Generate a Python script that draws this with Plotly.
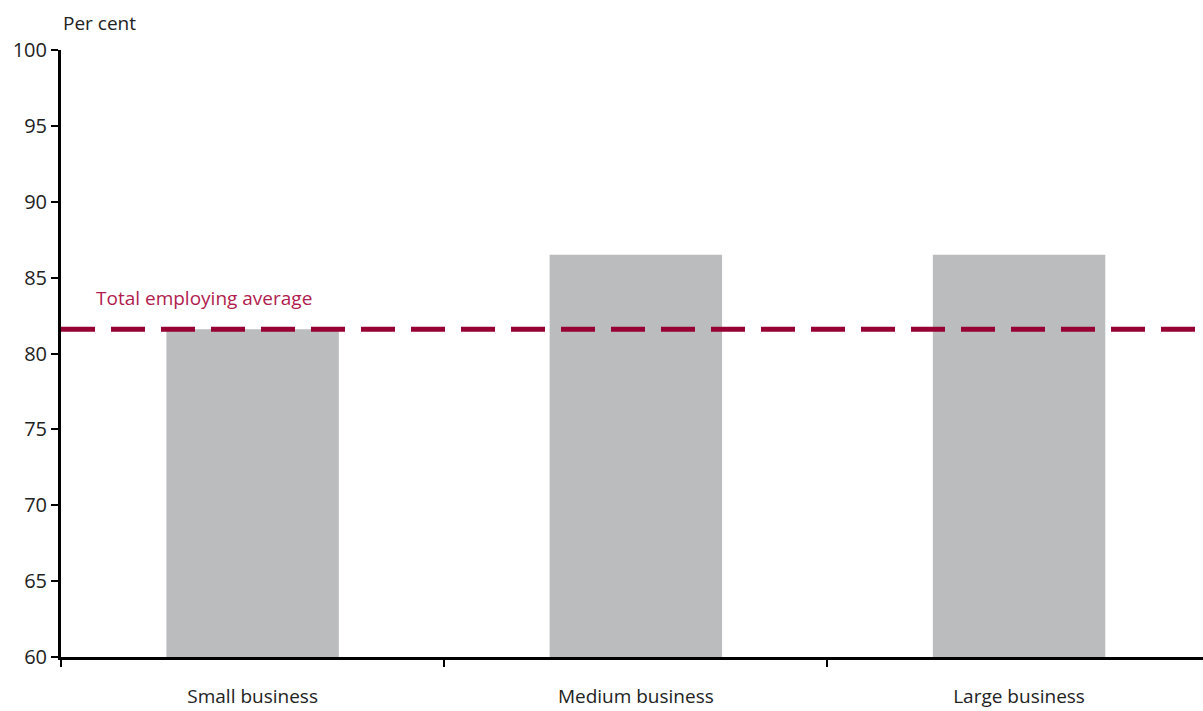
import plotly.graph_objects as go

categories = ["Small business", "Medium business", "Large business"]
values = [81.6, 86.5, 86.5]
average = 81.6
y_ticks = [60, 65, 70, 75, 80, 85, 90, 95, 100]

font_family = "Open Sans, Noto Sans, sans-serif"

fig = go.Figure()
fig.add_trace(go.Bar(
    x=categories, y=values, marker_color="#BBBCBE", width=0.45,
    marker_line_width=0, hoverinfo="skip", showlegend=False,
))

fig.add_shape(type="line", xref="paper", x0=0, x1=1, yref="y", y0=average, y1=average,
              line=dict(color="#960032", width=5, dash="34px,16px"))

fig.add_annotation(text="Total employing average", xref="x", yref="y",
                   x=-0.415, y=average + 1.1, xanchor="left", yanchor="bottom",
                   showarrow=False, font=dict(family=font_family, size=19, color="#B01C4E"))
fig.add_annotation(text="Per cent", xref="paper", yref="paper", x=0.0, y=1.0,
                   xanchor="left", yanchor="bottom", yshift=12, showarrow=False,
                   font=dict(family=font_family, size=19, color="#222"))

fig.update_layout(
    width=1203, height=711,
    margin=dict(l=61, r=0, t=50, b=54, autoexpand=False),
    plot_bgcolor="white", paper_bgcolor="white",
    font=dict(family=font_family, size=19, color="#222"),
    bargap=0.55,
)
fig.update_xaxes(
    type="category", range=[-0.5, 2.48], tickson="boundaries",
    showline=True, linecolor="black", linewidth=3,
    ticks="outside", ticklen=7, tickwidth=2, tickcolor="black",
    ticklabelstandoff=20, showgrid=False, zeroline=False, automargin=False,
    tickfont=dict(size=19),
)
fig.update_yaxes(
    range=[60, 100], tickvals=y_ticks, showline=True, linecolor="black", linewidth=3,
    ticks="outside", ticklen=7, tickwidth=2, tickcolor="black",
    showgrid=False, zeroline=False, automargin=False, tickfont=dict(size=20),
)

fig.write_html("out.html")
